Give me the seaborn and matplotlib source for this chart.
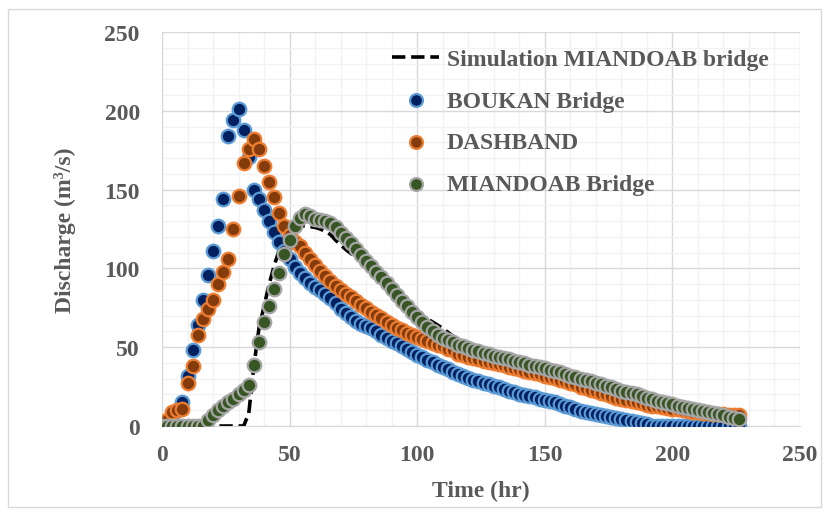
import numpy as np
import pandas as pd
import matplotlib
matplotlib.use("Agg")
import matplotlib.pyplot as plt
import seaborn as sns
from matplotlib.patches import Rectangle

# ---------------- data ----------------
time_hr = list(range(0, 228, 2))  # 0..226 hr, 2-hr step

boukan = [1, 3, 6, 10, 15, 32, 48, 64, 80, 96,
          111, 127, 144, 184, 194, 201, 188, 171, 150, 144,
          137, 130, 123, 117, 111, 106, 101, 97, 94, 91,
          88.5, 86, 83.5, 81, 78, 74.5, 71.5, 69, 66.5, 65,
          63.5, 62, 60, 58, 56, 54, 52.5, 51, 49, 47,
          45, 43.5, 42, 40.5, 39, 37.5, 36, 34.5, 33, 31.5,
          30.5, 29.5, 28.5, 27.5, 26.5, 25.5, 24.5, 23.5, 22.5, 21.5,
          20.5, 19.8, 19, 18.2, 17.4, 16.6, 15.8, 15, 14, 13,
          12, 10.8, 9.7, 9, 8.2, 7.5, 6.8, 6.2, 5.5, 5,
          4.5, 4, 3.2, 2.5, 1.8, 1, 0.3, 0, 0, 0,
          0, 0, 0, 0, 0, 0, 0, 0, 0, 0,
          0, 0, 0, 0]

dashband = [0, 4, 9, 10, 10.5, 27, 38, 58, 68, 74,
            80, 90, 98, 106, 125, 146, 167, 176, 182, 176,
            165, 155, 145, 135, 127, 121, 117, 114, 110, 106,
            102, 98.5, 95, 92, 89, 86, 84, 82, 79, 77,
            75, 72.5, 70.5, 68.5, 66, 64, 62.5, 61, 59, 57.5,
            56.5, 55, 54, 52.5, 51.5, 50.5, 49, 48, 46, 45,
            44, 43, 42.5, 41.5, 40.8, 40, 39.2, 38.5, 37.5, 36.8,
            36, 35.2, 34.5, 33.5, 32.8, 32, 31.2, 30.5, 29.5, 28.5,
            27.5, 26.5, 25, 24, 23, 22, 21, 20, 19, 18,
            17, 16.5, 15.8, 15, 14.3, 13.6, 13, 12.5, 12, 11.5,
            11, 10.5, 10, 9.6, 9.2, 8.8, 8.4, 8, 7.7, 7.5,
            7.3, 7.2, 7.1, 7]

miandoab = [0, 0, 0, 0, 0, 0, 0, 0, 0, 4,
            7, 10, 13, 15, 17, 20, 23, 26, 39, 53,
            66, 76, 87, 97, 109, 118, 127, 132, 134.5, 133.5,
            131.5, 130.5, 130, 128.5, 126, 122.5, 119, 116, 112, 108.5,
            105, 101.5, 98, 94.5, 90.5, 87, 83, 79.5, 76, 72.5,
            69, 66, 63, 60.5, 58, 56, 54.5, 53, 51.5, 50.5,
            49.5, 48.5, 47.5, 46.5, 45.5, 44.5, 43.7, 43, 42.2, 41.4,
            40.6, 39.8, 39, 38.2, 37.4, 36.6, 35.8, 35, 34, 33,
            32, 31, 30, 29.5, 28.5, 27.5, 26.5, 25.5, 24.5, 23.5,
            22.5, 21.8, 21, 20, 19, 18, 17, 16, 15.2, 14.5,
            13.7, 13, 12.2, 11.5, 10.8, 10, 9.4, 8.8, 8.2, 7.5,
            6.7, 6, 5.2, 4.5]

simulation = [0, 0, 0, 0, 0, 0, 0, 0, 0, 0,
              0, 0, 0, 0, 0, 0, 0, 8, 38, 62,
              76, 90, 102, 112, 120, 124, 126, 127, 127, 126.5,
              126, 125, 123.5, 121.5, 118, 115, 112, 109.5, 107, 104,
              101, 98, 95, 92, 89, 86, 83, 80, 77.5, 75,
              72.5, 70, 68, 66, 64, 62, 59.5, 57, 54.5, 52.5,
              50.5, 49, 47.5, 46.5, 45.5, 44.5, 43.7, 43, 42.2, 41.4,
              40.6, 39.8, 39, 38.2, 37.4, 36.6, 35.8, 35, 34, 33,
              32, 31, 30, 29.5, 28.5, 27.5, 26.5, 25.5, 24.5, 23.5,
              22.5, 21.8, 21, 20, 19, 18, 17, 16, 15.2, 14.5,
              13.7, 13, 12.2, 11.5, 10.8, 10, 9.4, 8.8, 8.2, 7.5,
              6.7, 6, 5.2, 4.5]

x_ticks = [0, 50, 100, 150, 200, 250]
y_ticks = [0, 50, 100, 150, 200, 250]

df = pd.DataFrame({"Time": time_hr, "BOUKAN": boukan, "DASHBAND": dashband,
                   "MIANDOAB": miandoab, "Sim": simulation})

# ---------------- style ----------------
sns.set_style("white")
plt.rcParams["font.family"] = ["Liberation Serif", "DejaVu Serif"]
plt.rcParams["font.weight"] = "bold"
TXT = "#595959"

fig = plt.figure(figsize=(8.28, 5.10), dpi=100)
ax = fig.add_axes([162 / 828, 1 - 427 / 510, (800 - 162) / 828, (427 - 33) / 510])

# outer chart border
fig.patches.append(Rectangle((8 / 828, 2 / 510), 813 / 828, 498 / 510,
                             transform=fig.transFigure, fill=False,
                             edgecolor="#D9D9D9", linewidth=1.0))

sns.lineplot(data=df, x="Time", y="Sim", ax=ax, color="black", linewidth=2.6,
             linestyle="--", label="Simulation MIANDOAB bridge", zorder=2)
sns.scatterplot(data=df, x="Time", y="BOUKAN", ax=ax, s=95, color="#002060",
                edgecolor="#5B9BD5", linewidth=1.6, label="BOUKAN Bridge", zorder=3)
sns.scatterplot(data=df, x="Time", y="DASHBAND", ax=ax, s=95, color="#843C0C",
                edgecolor="#ED7D31", linewidth=1.6, label="DASHBAND", zorder=4)
sns.scatterplot(data=df, x="Time", y="MIANDOAB", ax=ax, s=95, color="#375623",
                edgecolor="#A5A5A5", linewidth=1.6, label="MIANDOAB Bridge", zorder=5)

ax.set_xlim(0, 250)
ax.set_ylim(0, 250)
ax.set_xticks(x_ticks)
ax.set_yticks(y_ticks)
ax.set_xticks(np.arange(0, 251, 10), minor=True)
ax.set_yticks(np.arange(0, 251, 10), minor=True)
ax.grid(which="minor", color="#F2F2F2", linewidth=1.0, zorder=0)
ax.grid(which="major", color="#D9D9D9", linewidth=1.0, zorder=0)
ax.set_axisbelow(True)
for sp in ax.spines.values():
    sp.set_visible(False)
ax.spines["left"].set_visible(True)
ax.spines["bottom"].set_visible(True)
ax.spines["left"].set_color("#D9D9D9")
ax.spines["bottom"].set_color("#D9D9D9")

ax.tick_params(which="both", length=0)
ax.tick_params(axis="y", pad=16, labelsize=17, labelcolor=TXT)
ax.tick_params(axis="x", pad=13, labelsize=17, labelcolor=TXT)
for lab in ax.get_xticklabels() + ax.get_yticklabels():
    lab.set_fontweight("bold")

ax.set_xlabel("Time (hr)", fontsize=17, fontweight="bold", color=TXT, labelpad=11)
ax.set_ylabel("Discharge (m³/s)", fontsize=17, fontweight="bold",
              color=TXT, labelpad=20)

leg = ax.legend(loc="upper left", bbox_to_anchor=(0.335, 1.0), frameon=False,
                fontsize=17, handlelength=2.0, handletextpad=0.3,
                labelspacing=0.85, markerscale=0.95, borderaxespad=0.3)
for t in leg.get_texts():
    t.set_color(TXT)
    t.set_fontweight("bold")

fig.savefig("out.png", dpi=100)
